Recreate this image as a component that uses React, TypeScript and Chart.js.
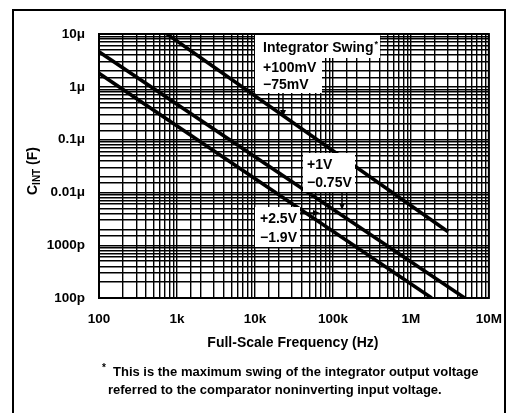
import { useEffect, useRef } from 'react';
import { Chart, registerables } from 'chart.js';

Chart.register(...registerables);

// ---- data ----
const xTickLabels = ['100', '1k', '10k', '100k', '1M', '10M'];
const yTickLabels = ['100p', '1000p', '0.01μ', '0.1μ', '1μ', '10μ'];
const xMin = 100;
const xMax = 1e7;
const yMin = 1e-10;
const yMax = 1e-5;

// Integrator swing lines (frequency Hz, capacitance F)
const swing100mV = [
  { x: 745, y: 1e-5 },
  { x: 3.0e6, y: 1.8e-9 },
];
const swing1V = [
  { x: 100, y: 4.6e-6 },
  { x: 4.9e6, y: 1e-10 },
];
const swing2p5V = [
  { x: 100, y: 1.8e-6 },
  { x: 1.85e6, y: 1e-10 },
];

const labelBox1 = ['Integrator Swing', '+100mV', '\u221275mV'];
const labelBox2 = ['+1V', '\u22120.75V'];
const labelBox3 = ['+2.5V', '\u22121.9V'];
const xTitle = 'Full-Scale Frequency (Hz)';
const yTitleParts = ['C', 'INT', ' (F)'];
const footnote = [
  'This is the maximum swing of the integrator output voltage',
  'referred to the comparator noninverting input voltage.',
];

const FONT = '"Liberation Sans", Arial, Helvetica, sans-serif';

function decadeIndex(v: number, min: number): number | null {
  const e = Math.log10(v);
  const r = Math.round(e);
  if (Math.abs(e - r) > 1e-6) return null;
  return r - Math.round(Math.log10(min));
}

function arrow(ctx: CanvasRenderingContext2D, x1: number, y1: number, x2: number, y2: number) {
  const ang = Math.atan2(y2 - y1, x2 - x1);
  const hl = 7;
  const hw = 3;
  const bx = x2 - hl * Math.cos(ang);
  const by = y2 - hl * Math.sin(ang);
  ctx.beginPath();
  ctx.moveTo(x1, y1);
  ctx.lineTo(bx, by);
  ctx.lineWidth = 1.5;
  ctx.strokeStyle = '#000';
  ctx.stroke();
  ctx.beginPath();
  ctx.moveTo(x2, y2);
  ctx.lineTo(bx + hw * Math.sin(ang), by - hw * Math.cos(ang));
  ctx.lineTo(bx - hw * Math.sin(ang), by + hw * Math.cos(ang));
  ctx.closePath();
  ctx.fillStyle = '#000';
  ctx.fill();
}

const overlayPlugin = {
  id: 'overlay',
  afterDatasetsDraw(chart: any) {
    const ctx: CanvasRenderingContext2D = chart.ctx;
    const ca = chart.chartArea;
    const L = ca.left;
    const T = ca.top;
    ctx.save();
    // plot frame
    ctx.strokeStyle = '#000';
    ctx.lineWidth = 2;
    ctx.strokeRect(ca.left, ca.top, ca.right - ca.left, ca.bottom - ca.top);

    const f = `bold 14px ${FONT}`;
    // box 1
    ctx.fillStyle = '#fff';
    ctx.fillRect(L + 156, T + 1, 125, 23);
    ctx.fillRect(L + 156, T + 1, 67, 58);
    // box 2
    ctx.fillRect(L + 204, T + 119, 52, 39);
    // box 3
    ctx.fillRect(L + 156, T + 173, 45, 40);

    ctx.fillStyle = '#000';
    ctx.font = f;
    ctx.textAlign = 'left';
    ctx.textBaseline = 'alphabetic';
    ctx.fillText(labelBox1[0], L + 164, T + 18);
    const w = ctx.measureText(labelBox1[0]).width;
    ctx.font = `bold 9px ${FONT}`;
    ctx.fillText('*', L + 164 + w + 1, T + 13);
    ctx.font = f;
    ctx.fillText(labelBox1[1], L + 164, T + 38);
    ctx.fillText(labelBox1[2], L + 164, T + 55);

    ctx.fillText(labelBox2[0], L + 208, T + 135);
    ctx.fillText(labelBox2[1], L + 208, T + 153);

    ctx.fillText(labelBox3[0], L + 161, T + 189);
    ctx.fillText(labelBox3[1], L + 161, T + 208);

    arrow(ctx, L + 184, T + 59, L + 184, T + 83);
    arrow(ctx, L + 243, T + 158, L + 243, T + 176);
    arrow(ctx, L + 201, T + 179, L + 221, T + 179);

    // axis titles
    ctx.font = f;
    ctx.textAlign = 'center';
    ctx.textBaseline = 'middle';
    ctx.fillText(xTitle, (ca.left + ca.right) / 2 - 1, ca.bottom + 45);

    // y title rotated
    ctx.save();
    ctx.translate(L - 67, (ca.top + ca.bottom) / 2 + 5);
    ctx.rotate(-Math.PI / 2);
    ctx.textAlign = 'left';
    ctx.textBaseline = 'alphabetic';
    ctx.font = f;
    const wC = ctx.measureText(yTitleParts[0]).width;
    const wF = ctx.measureText(yTitleParts[2]).width;
    ctx.font = `bold 10px ${FONT}`;
    const wI = ctx.measureText(yTitleParts[1]).width;
    let sx = -(wC + wI + wF) / 2;
    ctx.font = f;
    ctx.fillText(yTitleParts[0], sx, 5);
    sx += wC;
    ctx.font = `bold 10px ${FONT}`;
    ctx.fillText(yTitleParts[1], sx, 8);
    sx += wI;
    ctx.font = f;
    ctx.fillText(yTitleParts[2], sx, 5);
    ctx.restore();

    // footnote
    const fn = `bold 13px ${FONT}`;
    ctx.textAlign = 'left';
    ctx.textBaseline = 'alphabetic';
    ctx.font = `bold 10px ${FONT}`;
    ctx.fillText('*', L + 3, ca.bottom + 73);
    ctx.font = fn;
    ctx.fillText(footnote[0], L + 14, ca.bottom + 78);
    ctx.fillText(footnote[1], L + 9, ca.bottom + 96);
    ctx.restore();
  },
};

export default function App() {
  const ref = useRef<HTMLCanvasElement | null>(null);
  useEffect(() => {
    if (!ref.current) return;
    const tickFont = { family: FONT, size: 13.5, weight: 'bold' as const };
    const lineStyle = {
      borderColor: '#000',
      backgroundColor: '#000',
      borderWidth: 3.5,
      pointRadius: 0,
      fill: false,
      tension: 0,
    };
    const chart = new Chart(ref.current, {
      type: 'line',
      data: {
        datasets: [
          { label: '+100mV/-75mV', data: swing100mV, ...lineStyle },
          { label: '+1V/-0.75V', data: swing1V, ...lineStyle },
          { label: '+2.5V/-1.9V', data: swing2p5V, ...lineStyle },
        ],
      },
      options: {
        animation: false,
        responsive: true,
        maintainAspectRatio: false,
        layout: { padding: { left: 0, top: 34, right: 26, bottom: 75 } },
        plugins: { legend: { display: false }, tooltip: { enabled: false } },
        scales: {
          x: {
            type: 'logarithmic',
            min: xMin,
            max: xMax,
            grid: { color: '#000', lineWidth: 1.4, drawTicks: false },
            border: { display: false },
            afterFit: (s: any) => {
              s.height = 40;
            },
            ticks: {
              autoSkip: false,
              maxRotation: 0,
              padding: 13,
              color: '#000',
              font: tickFont,
              callback: (v: any) => {
                const i = decadeIndex(Number(v), xMin);
                return i === null ? '' : xTickLabels[i] ?? '';
              },
            },
          },
          y: {
            type: 'logarithmic',
            min: yMin,
            max: yMax,
            grid: { color: '#000', lineWidth: 1.4, drawTicks: false },
            border: { display: false },
            afterFit: (s: any) => {
              s.width = 99;
            },
            ticks: {
              autoSkip: false,
              padding: 14,
              color: '#000',
              font: tickFont,
              callback: (v: any) => {
                const i = decadeIndex(Number(v), yMin);
                return i === null ? '' : yTickLabels[i] ?? '';
              },
            },
          },
        },
      },
      plugins: [overlayPlugin],
    });
    return () => chart.destroy();
  }, []);

  return (
    <div
      style={{
        position: 'fixed',
        left: 0,
        top: 0,
        width: 515,
        height: 413,
        background: '#fff',
        overflow: 'hidden',
      }}
    >
      <div
        style={{
          position: 'absolute',
          left: 12,
          top: 9,
          width: 494,
          height: 420,
          border: '2px solid #000',
          boxSizing: 'border-box',
        }}
      />
      <div style={{ position: 'absolute', left: 0, top: 0, width: 515, height: 413 }}>
        <canvas ref={ref} />
      </div>
    </div>
  );
}
